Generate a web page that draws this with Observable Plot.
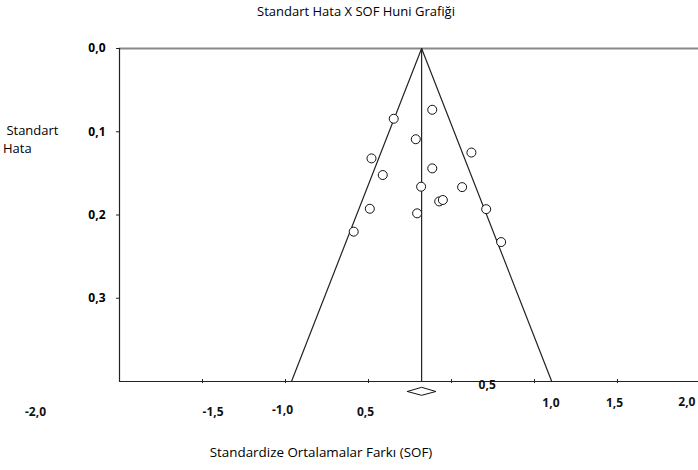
<!DOCTYPE html>
<html><head><meta charset="utf-8">
<script src="https://cdn.jsdelivr.net/npm/d3@7"></script>
<script src="https://cdn.jsdelivr.net/npm/@observablehq/plot@0.6"></script>
<style>
body{margin:0;background:#fff;font-family:"Open Sans",Lato,sans-serif;color:#000;}
#wrap{position:relative;width:698px;height:470px;overflow:hidden;background:#fff;}
#title{position:absolute;top:3px;left:0;width:712px;text-align:center;font-size:13px;line-height:16px;z-index:2;}
#ytitle{position:absolute;top:121px;left:3px;font-size:13px;line-height:18px;white-space:pre;z-index:2;}
#chart{position:absolute;top:30px;left:0;z-index:1;}
#xtitle{position:absolute;top:443px;left:0;width:642px;text-align:center;font-size:13.4px;line-height:18px;z-index:2;}
</style></head>
<body><div id="wrap">
<div id="title">Standart Hata X SOF Huni Grafiği</div>
<div id="ytitle"> Standart
Hata</div>
<div id="chart"></div>
<div id="xtitle">Standardize Ortalamalar Farkı (SOF)</div>
</div>
<script>
// Studies: standardized mean difference (x) and standard error (y)
const studySOF = [-0.116,-0.348,-0.215,0.120,-0.482,-0.116,-0.414,-0.183,0.064,-0.074,-0.052,-0.492,0.209,-0.207,-0.589,0.299];
const studySE  = [0.0736,0.0844,0.109,0.125,0.132,0.144,0.152,0.166,0.1665,0.1837,0.182,0.1925,0.193,0.198,0.220,0.2325];

// Pooled estimate and its confidence interval (diamond)
const pooledMean = -0.18;
const pooledLo = -0.266;
const pooledHi = -0.094;
const diamondSE = [0.412, 0.407, 0.412, 0.4166, 0.412];

// Funnel (95% limits at the maximum standard error)
const maxSE = 0.4;
const funnelBase = [-0.964, 0.604];

// Axes
const xDomain = [-2, 1.488];
const xTickValues = [-1.5, -1.0, -0.5, 0.0, 0.5, 1.0];
const yTickValues = [0, 0.1, 0.2, 0.3];

// X tick labels as they appear in the picture
const xLabelText = ["-2,0","-1,5","-1,0","0,5","0,5","1,0","1,5","2,0"];
const xLabelAt   = [-2.506,-1.436,-1.018,-0.518,0.215,0.599,0.982,1.418];
const xLabelSE   = [0.437,0.437,0.4346,0.4366,0.4046,0.4262,0.4262,0.4246];

const studies = studySOF.map((x,i)=>({x, y: studySE[i]}));
const funnel = [
  {x: funnelBase[0], y: maxSE},
  {x: pooledMean, y: 0},
  {x: funnelBase[1], y: maxSE}
];
const diamond = [pooledLo, pooledMean, pooledHi, pooledMean, pooledLo].map((x,i)=>({x, y: diamondSE[i]}));
const xLabels = xLabelText.map((t,i)=>({t, x: xLabelAt[i], y: xLabelSE[i]}));

const chart = Plot.plot({
  width: 698, height: 410,
  marginTop: 18, marginBottom: 59, marginLeft: 119, marginRight: 0,
  x: {domain: xDomain, axis: null},
  y: {domain: [0, maxSE], reverse: true, axis: null},
  style: {fontFamily: "'Open Sans', Lato, sans-serif", background: "transparent", overflow: "visible"},
  marks: [
    Plot.ruleY([0], {stroke: "#888", strokeWidth: 2}),
    Plot.ruleY([maxSE], {stroke: "#222", strokeWidth: 1.2}),
    Plot.ruleX([xDomain[0]], {y1: 0, y2: maxSE, stroke: "#222", strokeWidth: 1.2}),
    Plot.axisX({ticks: xTickValues, tickSize: 4, tickFormat: () => "", label: null, stroke: "#222", dy: -2}),
    Plot.axisY({ticks: yTickValues, tickSize: 3, tickPadding: 11, label: null,
      tickFormat: d => d.toFixed(1).replace(".", ","), fontWeight: "bold", fontSize: 12, stroke: "#222"}),
    Plot.ruleX([pooledMean], {y1: 0, y2: maxSE, stroke: "#222", strokeWidth: 1.2}),
    Plot.line(funnel, {x: "x", y: "y", stroke: "#222", strokeWidth: 1.2}),
    Plot.dot(studies, {x: "x", y: "y", r: 4.5, stroke: "#111", fill: "white", strokeWidth: 1}),
    Plot.line(diamond, {x: "x", y: "y", stroke: "#111", strokeWidth: 1, fill: "none"}),
    Plot.text(xLabels, {x: "x", y: "y", text: "t", fontWeight: "bold", fontSize: 12, fill: "#111"})
  ]
});
document.getElementById("chart").appendChild(chart);
</script>
</body></html>
